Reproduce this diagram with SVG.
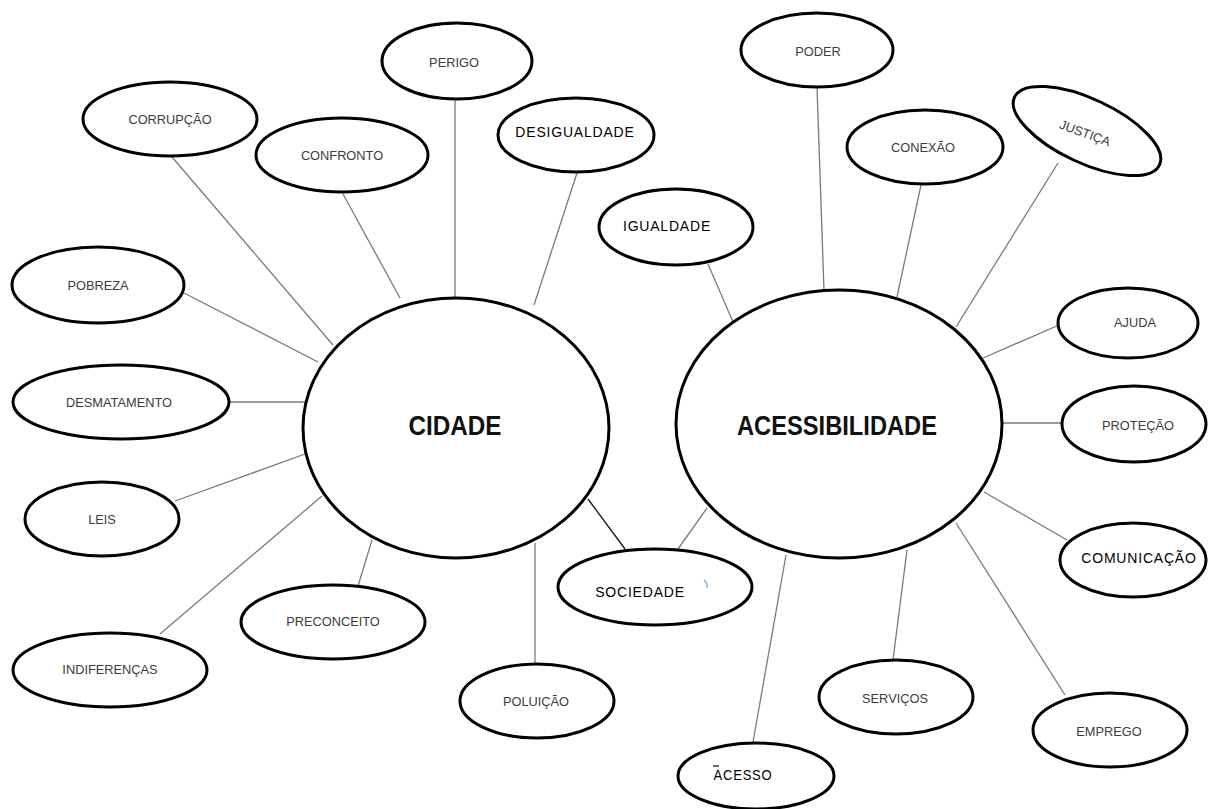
<svg xmlns="http://www.w3.org/2000/svg" width="1208" height="809" viewBox="0 0 1208 809">
<style>
.n{fill:#fff;stroke:#000;stroke-width:3}
.big{fill:#fff;stroke:#000;stroke-width:3}
.c{stroke:#7a7a7a;stroke-width:1.3;fill:none}
.cd{stroke:#111;stroke-width:1.3;fill:none}
.t{font-family:"Liberation Sans",Arial,sans-serif;font-size:12.8px;fill:#3c3c3c;text-anchor:middle;dominant-baseline:central}
.tb{font-family:"Liberation Sans",Arial,sans-serif;font-size:14px;letter-spacing:0.8px;fill:#000;text-anchor:middle;dominant-baseline:central}
.th{font-family:"Liberation Sans",Arial,sans-serif;font-weight:bold;font-size:28px;fill:#111;text-anchor:middle;dominant-baseline:central}
</style>
<rect width="1208" height="809" fill="#fff"/>
<g id="connectors">
<line class="c" x1="172" y1="157" x2="333" y2="345"/>
<line class="c" x1="343" y1="194" x2="400" y2="298"/>
<line class="c" x1="455" y1="99" x2="455" y2="297"/>
<line class="c" x1="577" y1="173" x2="534" y2="305"/>
<line class="c" x1="184" y1="293" x2="318" y2="362"/>
<line class="c" x1="230" y1="402" x2="305" y2="402"/>
<line class="c" x1="175" y1="501" x2="305" y2="454"/>
<line class="c" x1="322" y1="496" x2="160" y2="634"/>
<line class="c" x1="372" y1="540" x2="358" y2="586"/>
<line class="c" x1="535" y1="543" x2="535" y2="664"/>
<line class="cd" x1="588" y1="499" x2="625" y2="549"/>
<line class="c" x1="678" y1="549" x2="707" y2="508"/>
<line class="c" x1="708" y1="264" x2="733" y2="322"/>
<line class="c" x1="817" y1="87" x2="824" y2="291"/>
<line class="c" x1="921" y1="185" x2="897" y2="297"/>
<line class="c" x1="1058" y1="163" x2="956" y2="327"/>
<line class="c" x1="1059" y1="325" x2="983" y2="358"/>
<line class="c" x1="1003" y1="423" x2="1062" y2="423"/>
<line class="c" x1="984" y1="492" x2="1067" y2="540"/>
<line class="c" x1="956" y1="523" x2="1065" y2="695"/>
<line class="c" x1="907" y1="550" x2="893" y2="660"/>
<line class="c" x1="786" y1="555" x2="753" y2="742"/>
</g>
<g id="cidade"><ellipse class="big" cx="456" cy="428" rx="153" ry="130"/><text class="th" x="455" y="425" textLength="93" lengthAdjust="spacingAndGlyphs">CIDADE</text></g>
<g id="acessibilidade"><ellipse class="big" cx="839" cy="424" rx="163" ry="134"/><text class="th" x="837" y="425" textLength="200" lengthAdjust="spacingAndGlyphs">ACESSIBILIDADE</text></g>
<g id="corrupcao"><ellipse class="n" cx="170" cy="119" rx="87" ry="37"/><text class="t" x="170" y="119">CORRUPÇÃO</text></g>
<g id="confronto"><ellipse class="n" cx="342" cy="155" rx="86" ry="37"/><text class="t" x="342" y="155">CONFRONTO</text></g>
<g id="perigo"><ellipse class="n" cx="457" cy="61" rx="75" ry="38"/><text class="t" x="454" y="62">PERIGO</text></g>
<g id="desigualdade"><ellipse class="n" cx="576" cy="135" rx="78" ry="37"/><text class="tb" x="575" y="132">DESIGUALDADE</text></g>
<g id="igualdade"><ellipse class="n" cx="676" cy="227" rx="77" ry="38"/><text class="tb" x="667" y="226">IGUALDADE</text></g>
<g id="poder"><ellipse class="n" cx="817" cy="50" rx="76" ry="37"/><text class="t" x="818" y="51">PODER</text></g>
<g id="conexao"><ellipse class="n" cx="925" cy="147" rx="78" ry="37"/><text class="t" x="923" y="147">CONEXÃO</text></g>
<g id="justica"><ellipse class="n" cx="1087" cy="131" rx="80" ry="32" transform="rotate(25 1087 131)"/><text class="t" x="1085" y="133" transform="rotate(20 1085 133)">JUSTIÇA</text></g>
<g id="pobreza"><ellipse class="n" cx="98" cy="285" rx="86" ry="38"/><text class="t" x="98" y="285">POBREZA</text></g>
<g id="desmatamento"><ellipse class="n" cx="121" cy="402" rx="108" ry="37"/><text class="t" x="119" y="402">DESMATAMENTO</text></g>
<g id="leis"><ellipse class="n" cx="102" cy="519" rx="77" ry="37"/><text class="t" x="102" y="519">LEIS</text></g>
<g id="indiferencas"><ellipse class="n" cx="110" cy="670" rx="97" ry="37"/><text class="t" x="110" y="669">INDIFERENÇAS</text></g>
<g id="preconceito"><ellipse class="n" cx="333" cy="622" rx="92" ry="37"/><text class="t" x="333" y="621">PRECONCEITO</text></g>
<g id="poluicao"><ellipse class="n" cx="537" cy="701" rx="77" ry="37"/><text class="t" x="536" y="701">POLUIÇÃO</text></g>
<g id="sociedade"><ellipse class="n" cx="655" cy="587" rx="97" ry="38"/><text class="tb" x="640" y="592">SOCIEDADE</text><path d="M704 580 q4 3 3 8" stroke="#6fa8dc" stroke-width="1.2" fill="none"/></g>
<g id="acesso"><ellipse class="n" cx="756" cy="776" rx="78" ry="33"/><text class="tb" x="743" y="775" textLength="59" lengthAdjust="spacingAndGlyphs">ACESSO</text><line x1="713" y1="766" x2="719" y2="766" stroke="#000" stroke-width="1.2"/></g>
<g id="servicos"><ellipse class="n" cx="896" cy="697" rx="77" ry="37"/><text class="t" x="895" y="698">SERVIÇOS</text></g>
<g id="emprego"><ellipse class="n" cx="1110" cy="730" rx="77" ry="37"/><text class="t" x="1109" y="731">EMPREGO</text></g>
<g id="ajuda"><ellipse class="n" cx="1128" cy="323" rx="70" ry="35"/><text class="t" x="1135" y="322">AJUDA</text></g>
<g id="protecao"><ellipse class="n" cx="1134" cy="424" rx="72" ry="38"/><text class="t" x="1138" y="425">PROTEÇÃO</text></g>
<g id="comunicacao"><ellipse class="n" cx="1133" cy="560" rx="73" ry="37"/><text class="tb" x="1139" y="558">COMUNICAÇÃO</text></g>
</svg>
